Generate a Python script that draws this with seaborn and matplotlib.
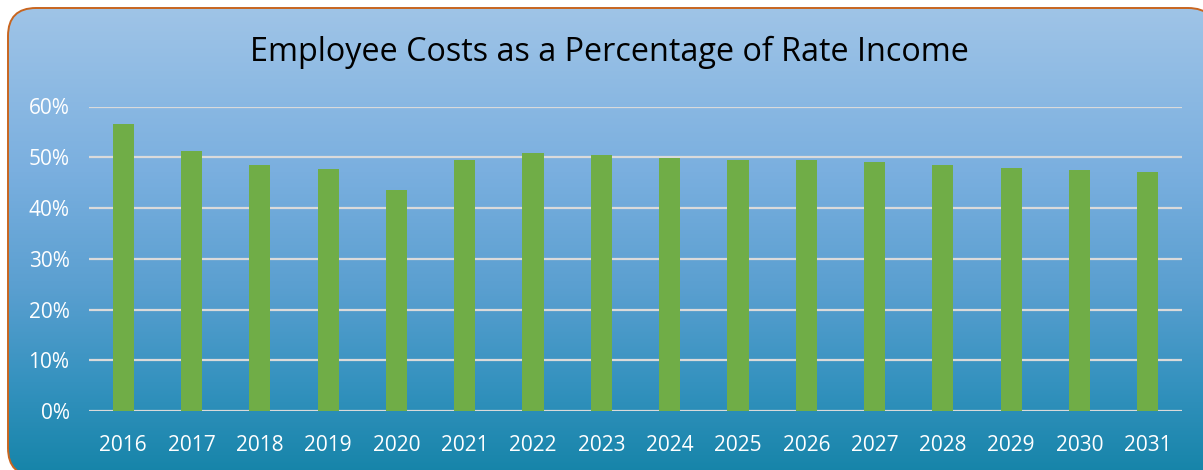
import numpy as np
import pandas as pd
import matplotlib
matplotlib.use("Agg")
import matplotlib.pyplot as plt
from matplotlib.patches import FancyBboxPatch
from matplotlib.colors import LinearSegmentedColormap
from matplotlib.ticker import PercentFormatter
import seaborn as sns

years = ["2016", "2017", "2018", "2019", "2020", "2021", "2022", "2023",
         "2024", "2025", "2026", "2027", "2028", "2029", "2030", "2031"]
employee_cost_pct = [56.6, 51.3, 48.4, 47.7, 43.6, 49.5, 50.9, 50.5,
                     49.9, 49.4, 49.4, 49.0, 48.4, 47.9, 47.5, 47.0]
y_ticks = [0, 10, 20, 30, 40, 50, 60]
title_text = "Employee Costs as a Percentage of Rate Income"

sns.set_theme(style="white")
plt.rcParams["font.family"] = ["Open Sans", "DejaVu Sans"]

W, H = 1203, 470
fig = plt.figure(figsize=(W / 100, H / 100), dpi=100)
fig.patch.set_facecolor("white")

# Background panel: rounded box filled with a vertical blue-to-teal gradient
# (pixel coordinates, y measured upward from the bottom of the figure)
bg = fig.add_axes([0, 0, 1, 1], zorder=0)
bg.axis("off")
px0, px1 = 8, 1216
py0, py1 = H - 476, H - 8
grad_cmap = LinearSegmentedColormap.from_list(
    "panel",
    [(0.0, "#9fc4e7"), (0.35, "#7aafdf"), (0.6, "#5a9fd0"),
     (0.8, "#3592bf"), (1.0, "#1584a8")])
gradient = np.linspace(0, 1, 256).reshape(-1, 1)
img = bg.imshow(gradient, cmap=grad_cmap, aspect="auto", origin="upper",
                extent=(px0, px1, py0, py1), interpolation="bicubic",
                zorder=1)
bg.set_xlim(0, W)
bg.set_ylim(0, H)
bg.set_autoscale_on(False)
# a barely-there fill keeps the outline from being re-routed along the canvas edge
panel = FancyBboxPatch((px0, py0), px1 - px0, py1 - py0,
                       boxstyle="round,pad=0,rounding_size=28",
                       facecolor=(1, 1, 1, 0.001), edgecolor="#c8651f",
                       linewidth=1.4, zorder=2)
bg.add_patch(panel)
img.set_clip_path(panel)

# Chart area
left, right = 89 / W, 1182 / W
bottom, top = (H - 411) / H, (H - 106.5) / H
ax = fig.add_axes([left, bottom, right - left, top - bottom], zorder=1)
ax.set_facecolor("none")

df = pd.DataFrame({"year": years, "pct": employee_cost_pct})
sns.barplot(data=df, x="year", y="pct", color="#70ad47", saturation=1,
            width=0.31, linewidth=0, ax=ax, zorder=3)

ax.set_ylim(0, 60)
ax.set_xlim(-0.5, len(years) - 0.5)
ax.set_yticks(y_ticks)
ax.yaxis.set_major_formatter(PercentFormatter(decimals=0))
ax.grid(axis="y", color="#dadada", linewidth=1.6, zorder=0)
ax.set_axisbelow(True)
for s in ax.spines.values():
    s.set_visible(False)
ax.tick_params(axis="both", length=0, colors="white", labelsize=15)
ax.tick_params(axis="y", pad=14)
ax.tick_params(axis="x", pad=17)
ax.set_xlabel("")
ax.set_ylabel("")

fig.text(609 / W, 1 - 52 / H, title_text, ha="center", va="center",
         fontsize=23.3, color="black")

fig.savefig("out.png", dpi=100)
